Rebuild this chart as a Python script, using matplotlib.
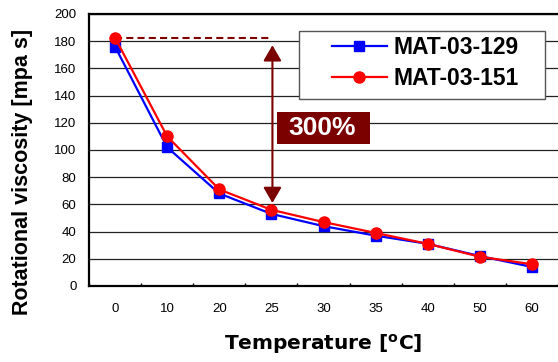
import numpy as np
import matplotlib
matplotlib.use('Agg')
import matplotlib.pyplot as plt
from matplotlib.patches import Rectangle

plt.rcParams['font.family'] = ['Liberation Sans', 'DejaVu Sans']

# data
temps = ['0', '10', '20', '25', '30', '35', '40', '50', '60']
mat_129 = [176, 102, 68, 53, 44, 37, 31, 22, 14]
mat_151 = [182.5, 110, 71, 56, 47, 39, 31, 21.5, 16]
yticks = np.arange(0, 201, 20)

x = np.arange(len(temps))

fig = plt.figure(figsize=(5.58, 3.62), dpi=100)
ax = fig.add_axes([0.1595, 0.21, 0.8405, 0.7514])

ax.plot(x, mat_129, color='#0000ff', marker='s', markersize=7, linewidth=1.6,
        label='MAT-03-129', zorder=3)
ax.plot(x, mat_151, color='#ff0000', marker='o', markersize=8, linewidth=1.6,
        label='MAT-03-151', zorder=4)

ax.set_xlim(-0.5, len(temps) - 0.5)
ax.set_ylim(0, 200)
ax.set_yticks(yticks)
ax.set_xticks(x)
ax.set_xticklabels(temps)
ax.set_xticks(np.arange(-0.5, len(temps)), minor=True)
ax.tick_params(axis='x', which='major', length=0, pad=12.5, labelsize=9.5)
ax.tick_params(axis='x', which='minor', direction='in', length=2.5, width=1)
ax.tick_params(axis='y', length=0, pad=9, labelsize=9.5)
ax.yaxis.grid(True, color='#222222', linewidth=0.9)
ax.set_axisbelow(True)

for s in ['left', 'bottom', 'top']:
    ax.spines[s].set_linewidth(1.6)
ax.spines['right'].set_visible(False)

ax.set_ylabel('Rotational viscosity [mpa s]', fontsize=15.5, fontweight='bold')
ax.yaxis.set_label_coords(-0.119, 0.419)
ax.set_xlabel('Temperature [$^{\\mathbf{o}}$C]', fontsize=14.5, fontweight='bold',
              family='DejaVu Sans')
ax.xaxis.set_label_coords(0.5, -0.17)

# 300% annotation
ax.plot([0, 2.98], [182.5, 182.5], color='#800000', linestyle=(0, (3.4, 2)),
        linewidth=1.5, zorder=2)
ax.annotate('', xy=(3.02, 177), xytext=(3.02, 61),
            arrowprops=dict(arrowstyle='<|-|>,head_length=0.95,head_width=0.55',
                            color='#7b0000', linewidth=1.5, shrinkA=0, shrinkB=0),
            zorder=5)
ax.add_patch(Rectangle((3.1, 104.5), 1.79, 23.5, facecolor='#7b0000',
                       edgecolor='none', zorder=5))
ax.text(3.98, 116, '300%', color='white', fontsize=19, fontweight='bold',
        ha='center', va='center', zorder=6)

# legend with its own frame box
ax.add_patch(Rectangle((0.448, 0.6875), 0.524, 0.25, transform=ax.transAxes,
                       facecolor='white', edgecolor='#555555', linewidth=1,
                       zorder=6))
leg = ax.legend(loc='upper left', bbox_to_anchor=(0.518, 0.92), frameon=False,
                prop={'weight': 'bold', 'size': 16.5},
                handlelength=2.4, handletextpad=0.3, borderpad=0,
                labelspacing=0.35, borderaxespad=0)
leg.set_zorder(7)

fig.savefig('out.png', dpi=100)
